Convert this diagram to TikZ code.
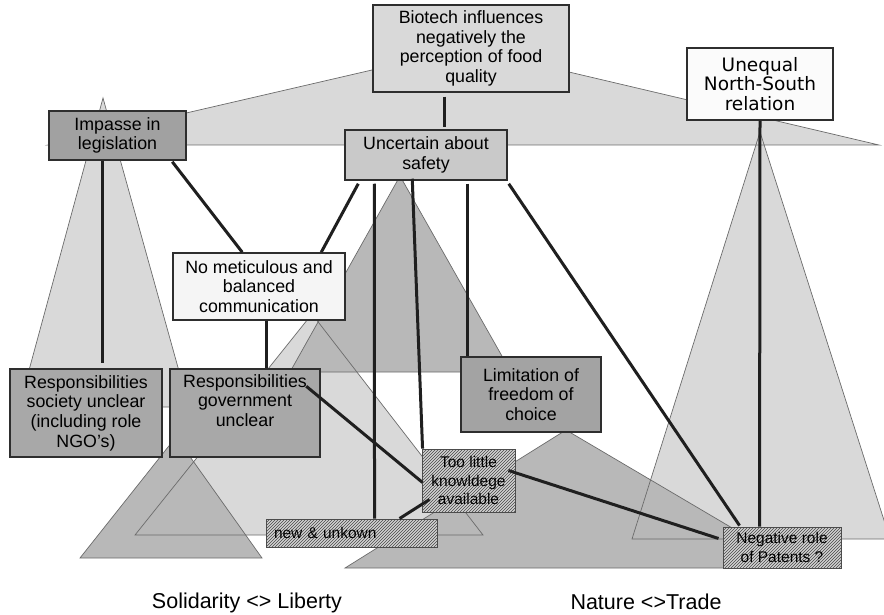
\documentclass[tikz,border=0pt]{standalone}
\usepackage{fontspec}
\setmainfont{Liberation Sans}
\newfontfamily\dvs{DejaVu Sans}
\usetikzlibrary{calc,patterns}

\definecolor{trilight}{gray}{0.85}
\definecolor{trimid}{gray}{0.72}
\definecolor{triedge}{gray}{0.42}

\tikzset{
  tri/.style={fill=#1},
  triline/.style={draw=triedge, line width=0.7pt, line join=miter},
  box/.style={draw=black!82, line width=1.5pt, align=center, inner sep=2pt,
    font=\fontsize{17.8}{19.6}\selectfont, fill=#1},
  hatchbox/.style={draw=black!70, line width=0.9pt, align=center, inner sep=2pt,
    preaction={fill=gray!35}, pattern=north east lines, pattern color=black!72,
    font=\fontsize{15.5}{18.5}\selectfont},
  link/.style={draw=black!88, line width=3pt},
  caption/.style={font=\fontsize{21.5}{24}\selectfont}
}

\begin{document}
\begin{tikzpicture}[x=1pt,y=-1pt]
\useasboundingbox (0,0) rectangle (884,615);

% background triangles
\begin{scope}
  \clip (0,0) rectangle (884,615);
  % light triangles
  \path[tri=trilight] (467,48) -- (48,145) -- (879,145) -- cycle;
  \path[tri=trilight] (103,98) -- (19,407) -- (189,407) -- cycle;
  \path[tri=trilight] (760,132) -- (632,539) -- (890,539) -- cycle;
  \path[tri=trilight] (312,314) -- (135,535) -- (483,535) -- cycle;
  % darker triangles
  \path[tri=trimid] (400,176) -- (290,372) -- (511,372) -- cycle;
  \path[tri=trimid] (176,437) -- (80,558) -- (262,558) -- cycle;
  \path[tri=trimid] (566,430) -- (345,568) -- (800,568) -- cycle;
  % outlines on top of all fills
  \path[triline] (467,48) -- (48,145) -- (879,145) -- cycle;
  \path[triline] (103,98) -- (19,407) -- (189,407) -- cycle;
  \path[triline] (760,132) -- (632,539) -- (890,539) -- cycle;
  \path[triline] (312,314) -- (135,535) -- (483,535) -- cycle;
  \path[triline] (400,176) -- (290,372) -- (511,372) -- cycle;
  \path[triline] (176,437) -- (80,558) -- (262,558) -- cycle;
  \path[triline] (566,430) -- (345,568) -- (800,568) -- cycle;
\end{scope}

% boxes
\node[box=trilight, minimum width=196pt, minimum height=87pt] (bio) at (471,48.5)
  {Biotech influences\\negatively the\\perception of food\\quality};
\node[box={gray!3}, minimum width=146pt, minimum height=72pt,
  font=\dvs\fontsize{18.5}{19.6}\selectfont] (uneq) at (760,84)
  {Unequal\\North-South\\relation};
\node[box={black!37}, minimum width=137pt, minimum height=49pt] (imp) at (117.5,135.5)
  {Impasse in\\legislation};
\node[box={black!21}, minimum width=162pt, minimum height=50pt] (unc) at (426,155)
  {Uncertain about\\safety};
\node[box={black!4}, minimum width=172pt, minimum height=67pt] (nomet) at (259,286.5)
  {No meticulous and\\balanced\\communication};
\node[box={black!34}, minimum width=152pt, minimum height=88pt] (rsoc) at (86,413)
  {Responsibilities\\society unclear\\(including role\\NGO's)};
\node[box={black!34}, minimum width=150pt, minimum height=88pt] (rgov) at (245,413)
  {Responsibilities\\government\\unclear\\\strut};
\node[box={black!36}, minimum width=140pt, minimum height=75pt] (lim) at (531,394.5)
  {Limitation of\\freedom of\\choice};
\node[hatchbox, minimum width=93pt, minimum height=63pt] (know) at (468.5,480.5)
  {Too little\\knowldege\\available};
\node[hatchbox, align=left, text width=155pt, inner xsep=8pt, minimum height=28pt] (newu) at (351.5,533)
  {new \& unkown};
\node[hatchbox, minimum width=118pt, minimum height=41pt] (pat) at (782,547.5)
  {Negative role\\of Patents ?};

% connectors
\draw[link] ($(bio.south west)+(72,4)$) -- ($(unc.north west)+(100,-2)$);
\draw[link] ($(imp.south west)+(54,0)$) -- ($(rsoc.north west)+(93,-5)$);
\draw[link] ($(imp.south west)+(124,1)$) -- ($(nomet.north west)+(70,0)$);
\draw[link] ($(unc.south west)+(14,3)$) -- ($(nomet.north west)+(149,0)$);
\draw[link] ($(unc.south west)+(30,3)$) -- ($(newu.north west)+(109,0)$);
\draw[link] ($(unc.south west)+(68,-2)$) -- ($(know.north west)+(1,0)$);
\draw[link] ($(unc.south west)+(123,3)$) -- ($(lim.north west)+(7,0)$);
\draw[link] ($(unc.south east)+(1,3)$) -- ($(pat.north west)+(17,-1)$);
\draw[link] (uneq.south) -- ($(pat.north west)+(37,0)$);
\draw[link] ($(nomet.south west)+(94,0)$) -- ($(rgov.north west)+(97,0)$);
\draw[link] ($(rgov.north west)+(137,18)$) -- ($(know.west)+(1,2)$);
\draw[link] ($(know.east)+(-7,-10)$) -- ($(pat.west)+(-4,-9)$);
\draw[link] ($(newu.north west)+(134,0)$) -- ($(know.south west)+(8,-13)$);

% axis captions
\node[caption] (sol) at (247,603) {Solidarity <> Liberty};
\node[caption] (nat) at (646,602) {Nature <>Trade};
\end{tikzpicture}
\end{document}
